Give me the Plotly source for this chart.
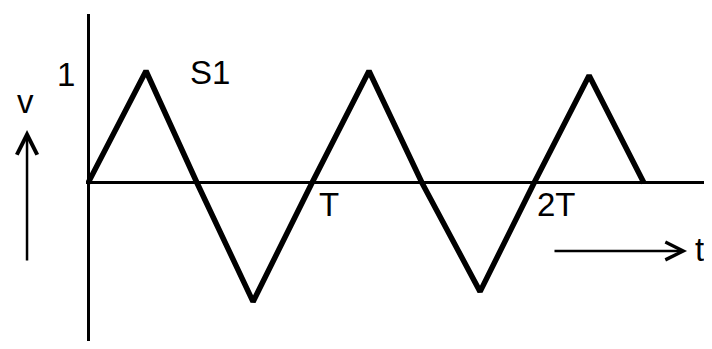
import plotly.graph_objects as go

# triangle wave, time in units of the period T, v normalised to the first peak
t_vals = [0.0, 0.260, 0.489, 0.740, 1.004, 1.260, 1.498, 1.758, 2.0, 2.247, 2.493]
v_vals = [0.0, 1.0, 0.0, -1.06, 0.0, 1.0, 0.0, -0.97, 0.0, 0.96, 0.0]

FONT = dict(family="Liberation Sans, Arial, Helvetica, sans-serif", size=33, color="black")

fig = go.Figure()
fig.add_trace(go.Scatter(
    x=t_vals,
    y=v_vals,
    mode='lines',
    line=dict(color='black', width=5.5),
    hoverinfo='skip',
    showlegend=False
))

# labels inside the plot area (data coordinates)
fig.add_annotation(x=0.547, y=0.985, text="S1", showarrow=False, font=FONT)
fig.add_annotation(x=1.081, y=-0.196, text="T", showarrow=False, font=FONT)
fig.add_annotation(x=2.099, y=-0.196, text="2T", showarrow=False, font=FONT)
fig.add_annotation(x=2.772, y=-0.59, text="t", showarrow=False, font=FONT,
                   xanchor='right', yanchor='middle')
# time arrow
fig.add_annotation(x=2.686, y=-0.607, ax=2.085, ay=-0.607, axref='x', ayref='y',
                   text="", showarrow=True, arrowhead=5, arrowsize=1.4,
                   arrowwidth=2.5, arrowcolor='black')

# labels left of the v axis (paper coordinates)
fig.add_annotation(x=-0.032, y=0.8135, xref='paper', yref='paper', text="1",
                   showarrow=False, font=FONT, xanchor='center', yanchor='middle')
fig.add_annotation(x=-0.0974, y=0.731, xref='paper', yref='paper', text="v",
                   showarrow=False, font=FONT, xanchor='center', yanchor='middle')
fig.add_annotation(x=-0.0942, y=0.6453, xref='paper', yref='paper', ax=0, ay=132,
                   text="", showarrow=True, arrowhead=5, arrowsize=1.6,
                   arrowwidth=2.5, arrowcolor='black')

axis_style = dict(showgrid=False, showticklabels=False, ticks='', showline=False,
                  zeroline=True, zerolinecolor='black', zerolinewidth=3, fixedrange=True)

# page body adds an 8px offset, keep the figure inside the window
fig.update_layout(
    width=704,
    height=333,
    margin=dict(l=78, r=0, t=6, b=0),
    paper_bgcolor='white',
    plot_bgcolor='white',
    xaxis=dict(range=[-0.009, 2.798], **axis_style),
    yaxis=dict(range=[-1.411, 1.509], **axis_style),
)

fig.write_html("out.html", config={'displayModeBar': False})
